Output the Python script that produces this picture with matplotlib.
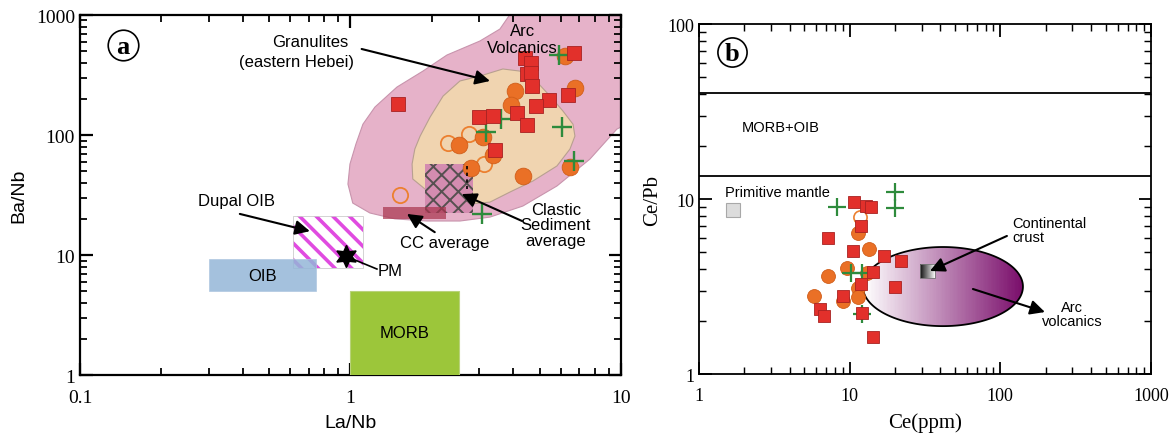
import numpy as np
import matplotlib.pyplot as plt
from matplotlib.patches import Polygon, Rectangle
from matplotlib.colors import LinearSegmentedColormap
from matplotlib.ticker import LogLocator, NullFormatter

SANS = "Liberation Sans"
SERIF = "Liberation Serif"

# ---------------- (a) La/Nb vs Ba/Nb ----------------
sq_a_lanb = [1.50, 4.42, 4.65, 4.49, 4.65, 4.69, 6.70, 6.37, 5.42, 4.85, 4.13, 4.49, 2.99, 3.36, 3.42]
sq_a_banb = [181, 438, 398, 322, 329, 256, 482, 215, 196, 174, 153, 121, 141, 144, 75]

dot_a_lanb = [6.21, 6.76, 4.06, 3.92, 2.52, 3.09, 3.36, 2.79, 4.34, 6.48]
dot_a_banb = [455, 246, 233, 178, 82.5, 96, 68, 53, 45.5, 54]

ring_a_lanb = [2.29, 2.74, 3.12, 1.52]
ring_a_banb = [85.8, 102, 57.3, 31.6]

cross_a_lanb = [5.90, 3.60, 3.17, 6.05, 6.70, 3.06]
cross_a_banb = [464, 136, 106, 117, 60.7, 22]

# field outlines (La/Nb, Ba/Nb)
arc_a_lanb = [3.99, 11.8, 11.8, 9.66, 7.68, 5.80, 4.34, 3.28, 2.54, 1.92, 1.46, 1.18, 1.02,
              0.979, 0.996, 1.048, 1.112, 1.232, 1.486, 1.854, 2.274, 3.01, 3.57]
arc_a_banb = [1100, 1100, 141, 112, 63, 37.6, 25.6, 20.7, 19.2, 19.2, 20.0, 22.4, 27.1,
              39, 57.3, 84.1, 123, 171, 251, 341, 464, 607, 764]

gran_lanb = [3.01, 3.66, 4.23, 4.89, 5.47, 6.11, 6.65, 6.76, 6.48, 5.80, 4.73, 3.89, 3.28,
             2.77, 2.14, 1.886, 1.70, 1.69, 1.73, 1.81, 1.97, 2.20, 2.54]
gran_banb = [310, 355, 341, 277, 211, 158, 123, 98, 76.4, 55.2, 41.4, 33.5, 27.6,
             26.6, 29.3, 35.5, 43.0, 57.3, 76.4, 98, 141, 211, 282]

# reservoir boxes: (La/Nb min, La/Nb max, Ba/Nb min, Ba/Nb max)
clastic_box = (1.886, 2.84, 22.4, 57.3)
cc_box = (1.32, 2.255, 20.0, 25.1)
dupal_box = (0.613, 1.11, 7.8, 21.1)
oib_box = (0.30, 0.745, 5.0, 9.25)
morb_box = (1.0, 2.52, 1.0, 5.0)
pm_a = (0.96, 9.8)

a_ticks_x = [0.1, 1, 10]
a_ticklabels_x = ["0.1", "1", "10"]
a_ticks_y = [1, 10, 100, 1000]
a_ticklabels_y = ["1", "10", "100", "1000"]

# ---------------- (b) Ce vs Ce/Pb ----------------
sq_b_ce = [10.7, 12.8, 13.8, 11.9, 7.18, 10.5, 16.9, 21.9, 14.3, 11.9, 20.0, 9.03, 6.35, 6.75, 12.1, 14.3]
sq_b_cepb = [9.61, 9.12, 9.0, 7.0, 5.98, 5.05, 4.72, 4.42, 3.83, 3.27, 3.14, 2.79, 2.35, 2.14, 2.23, 1.63]

dot_b_ce = [11.4, 13.4, 9.6, 7.18, 11.4, 11.4, 5.8, 9.03, 13.0]
dot_b_cepb = [6.39, 5.18, 4.03, 3.63, 3.10, 2.75, 2.79, 2.61, 3.78]

ring_b_ce = [11.7]
ring_b_cepb = [7.89]

cross_b_ce = [8.24, 20.0, 20.0, 10.2, 12.1, 12.1]
cross_b_cepb = [9.0, 10.97, 8.88, 3.78, 3.78, 2.20]

morb_oib_cepb = [13.5, 40.3]
pm_b = (1.68, 8.65)
cc_b_box = (29.3, 36.8, 3.54, 4.25)
# arc volcanics ellipse: centre and half-axes in decades
arc_b_centre = (41.6, 3.16)
arc_b_halfaxes = (0.531, 0.226)

b_ticks_x = [1, 10, 100, 1000]
b_ticklabels_x = ["1", "10", "100", "1000"]
b_ticks_y = [1, 10, 100]
b_ticklabels_y = ["1", "10", "100"]

SQ_COLOR = "#e2302b"
SQ_EDGE = "#a82222"
DOT_COLOR = "#ea7026"
DOT_EDGE = "#d05e1a"
CROSS_COLOR = "#2e8b3c"

fig = plt.figure(figsize=(11.74, 4.35), dpi=100)
ax1 = fig.add_axes([0.0681, 0.1356, 0.4608, 0.8276])
ax2 = fig.add_axes([0.5954, 0.1379, 0.3850, 0.8046])


def style_log_axes(ax, xt, xtl, yt, ytl, size, spine_w, xpad):
    ax.set_xscale("log")
    ax.set_yscale("log")
    ax.set_xlim(xt[0], xt[-1])
    ax.set_ylim(yt[0], yt[-1])
    ax.set_xticks(xt, labels=xtl)
    ax.set_yticks(yt, labels=ytl)
    for axis in (ax.xaxis, ax.yaxis):
        axis.set_minor_locator(LogLocator(base=10, subs=np.arange(2, 10)))
        axis.set_minor_formatter(NullFormatter())
    ax.tick_params(which="both", direction="in", top=True, right=True)
    ax.tick_params(which="major", length=9, width=spine_w)
    ax.tick_params(which="minor", length=5, width=spine_w * 0.8)
    ax.tick_params(labelsize=size)
    ax.tick_params(axis="x", which="major", pad=xpad)
    for lab in ax.get_xticklabels() + ax.get_yticklabels():
        lab.set_family(SERIF)
    for sp in ax.spines.values():
        sp.set_linewidth(spine_w)


def add_box(ax, box, **kw):
    x0, x1, y0, y1 = box
    p = Rectangle((x0, y0), x1 - x0, y1 - y0, **kw)
    ax.add_patch(p)
    return p


arrow_kw = dict(arrowstyle="-|>", color="black", lw=1.5, mutation_scale=22, shrinkA=0, shrinkB=0)

# ---------------- panel (a) ----------------
style_log_axes(ax1, a_ticks_x, a_ticklabels_x, a_ticks_y, a_ticklabels_y, 14, 1.6, 10)

ax1.add_patch(Polygon(np.column_stack([arc_a_lanb, arc_a_banb]), closed=True,
                      fc="#e6b2c9", ec="#c894ad", lw=0.8, zorder=1))
ax1.add_patch(Polygon(np.column_stack([gran_lanb, gran_banb]), closed=True,
                      fc="#f0d4b0", ec="#b8a090", lw=0.8, zorder=2))

clastic = add_box(ax1, clastic_box, fc="#d48cb0", ec="#565050", lw=0, hatch="xx", zorder=3)
clastic.set_hatch_linewidth(1.4)
add_box(ax1, cc_box, fc="#a8334c", alpha=0.7, lw=0, zorder=4)
dupal = add_box(ax1, dupal_box, fc="white", ec="#e04be0", lw=0, hatch="\\\\", zorder=3)
dupal.set_hatch_linewidth(2.6)
add_box(ax1, dupal_box, fill=False, ec="#cccccc", lw=0.6, zorder=3)
add_box(ax1, oib_box, fc="#94b6d8", ec="#b0c8e0", lw=0.6, alpha=0.85, zorder=4)
add_box(ax1, morb_box, fc="#9cc63a", ec="#b8d27a", lw=0.8, zorder=3)

ax1.plot(*pm_a, marker=(6, 1, 0), ms=16, color="black", zorder=5, ls="none")

ax1.plot(ring_a_lanb, ring_a_banb, "o", ms=11, mfc="none", mec="#ec8030", mew=1.3, zorder=6)
ax1.plot(dot_a_lanb, dot_a_banb, "o", ms=12, mfc=DOT_COLOR, mec=DOT_EDGE, mew=0.6, zorder=7)
ax1.plot(cross_a_lanb, cross_a_banb, "+", ms=14, mew=1.7, color=CROSS_COLOR, zorder=8)
ax1.plot(sq_a_lanb, sq_a_banb, "s", ms=10.5, mfc=SQ_COLOR, mec=SQ_EDGE, mew=0.6, zorder=9)

txt = dict(family=SANS, fontsize=12, ha="center", va="center", zorder=12)
ax1.text(0.708, 607, "Granulites", **txt)
ax1.text(0.634, 406, "(eastern Hebei)", **txt)
ax1.annotate("", xy=(3.28, 282), xytext=(1.10, 521), arrowprops=arrow_kw, zorder=11)
ax1.text(4.31, 631, "Arc\nVolcanics", linespacing=1.1, **txt)
ax1.text(0.380, 28.2, "Dupal OIB", **txt)
ax1.annotate("", xy=(0.708, 15.8), xytext=(0.390, 22.0), arrowprops=arrow_kw, zorder=11)
ax1.text(0.473, 6.8, "OIB", **txt)
ax1.text(1.59, 2.24, "MORB", **txt)
ax1.text(1.264, 7.5, "PM", family=SANS, fontsize=12, ha="left", va="center")
ax1.plot([1.253, 1.02], [7.64, 9.25], color="black", lw=1.2, zorder=5)
ax1.text(2.23, 12.6, "CC average", **txt)
ax1.annotate("", xy=(1.618, 22.0), xytext=(2.05, 15.5), arrowprops=arrow_kw, zorder=11)
ax1.text(5.75, 17.8, "Clastic\nSediment\naverage", linespacing=1.05, **txt)
ax1.annotate("", xy=(2.58, 32.2), xytext=(4.31, 19.2), arrowprops=arrow_kw, zorder=11)
ax1.plot([2.70, 2.70], [55.0, 35.5], color="black", lw=1.2, ls=(0, (2, 2)), zorder=10)

ax1.plot(0.08, 0.917, "o", ms=22, mfc="white", mec="black", mew=1.2, transform=ax1.transAxes, zorder=12)
ax1.text(0.08, 0.912, "a", transform=ax1.transAxes, family=SERIF, fontsize=19, fontweight="bold",
         ha="center", va="center", zorder=13)

ax1.set_xlabel("La/Nb", family=SANS, fontsize=14, labelpad=6)
ax1.set_ylabel("Ba/Nb", family=SANS, fontsize=14, labelpad=6)

# ---------------- panel (b) ----------------
style_log_axes(ax2, b_ticks_x, b_ticklabels_x, b_ticks_y, b_ticklabels_y, 13, 1.3, 9)

for level in morb_oib_cepb:
    ax2.axhline(level, color="black", lw=1.3, zorder=2)

# arc volcanics ellipse with a white-to-purple gradient
cx, cy = np.log10(arc_b_centre[0]), np.log10(arc_b_centre[1])
ha, hb = arc_b_halfaxes
t = np.linspace(0, 2 * np.pi, 240)
ell_xy = np.column_stack([10 ** (cx + ha * np.cos(t)), 10 ** (cy + hb * np.sin(t))])
ell = Polygon(ell_xy, closed=True, fc="none", ec="black", lw=1.3, zorder=4)
ax2.add_patch(ell)
arc_cmap = LinearSegmentedColormap.from_list("arc", ["#ffffff", "#7a0e6b"])
gx = np.logspace(cx - ha, cx + ha, 120)
gy = [10 ** (cy - hb), 10 ** (cy + hb)]
mesh = ax2.pcolormesh(gx, gy, np.linspace(0, 1, 119)[None, :], cmap=arc_cmap, shading="flat", zorder=3)
mesh.set_clip_path(ell)

# continental crust: grey gradient square
x0, x1, y0, y1 = cc_b_box
grey_cmap = LinearSegmentedColormap.from_list("cc", ["#151515", "#f2f2f2"])
ax2.pcolormesh(np.logspace(np.log10(x0), np.log10(x1), 30), [y0, y1],
               np.linspace(0, 1, 29)[None, :], cmap=grey_cmap, shading="flat", zorder=5)
add_box(ax2, cc_b_box, fill=False, ec="#777777", lw=0.6, zorder=5)

ax2.plot(*pm_b, "s", ms=10, mfc="#dcdcdc", mec="#a8a8a8", mew=0.8, zorder=5)

ax2.plot(ring_b_ce, ring_b_cepb, "o", ms=9.5, mfc="none", mec="#ec8030", mew=1.2, zorder=6)
ax2.plot(dot_b_ce, dot_b_cepb, "o", ms=10, mfc=DOT_COLOR, mec=DOT_EDGE, mew=0.6, zorder=7)
ax2.plot(cross_b_ce, cross_b_cepb, "+", ms=13, mew=1.6, color=CROSS_COLOR, zorder=8)
ax2.plot(sq_b_ce, sq_b_cepb, "s", ms=9, mfc=SQ_COLOR, mec=SQ_EDGE, mew=0.6, zorder=9)

txt_b = dict(family=SANS, fontsize=10.5, va="center", zorder=12)
ax2.text(1.93, 25.8, "MORB+OIB", ha="left", **txt_b)
ax2.text(1.488, 10.97, "Primitive mantle", ha="left", **txt_b)
ax2.text(119.4, 6.65, "Continental\ncrust", ha="left", linespacing=1.05, **txt_b)
ax2.annotate("", xy=(34.1, 3.88), xytext=(110.6, 6.15), arrowprops=arrow_kw, zorder=11)
ax2.text(298.6, 2.20, "Arc\nvolcanics", ha="center", linespacing=1.05, **txt_b)
ax2.annotate("", xy=(197.7, 2.26), xytext=(65.8, 3.06), arrowprops=arrow_kw, zorder=11)

ax2.plot(0.073, 0.92, "o", ms=21, mfc="white", mec="black", mew=1.2, transform=ax2.transAxes, zorder=12)
ax2.text(0.073, 0.915, "b", transform=ax2.transAxes, family=SERIF, fontsize=19, fontweight="bold",
         ha="center", va="center", zorder=13)

ax2.set_xlabel("Ce(ppm)", family=SERIF, fontsize=15, labelpad=6)
ax2.set_ylabel("Ce/Pb", family=SERIF, fontsize=15, labelpad=4)

fig.savefig("out.png", dpi=100, facecolor="white")
